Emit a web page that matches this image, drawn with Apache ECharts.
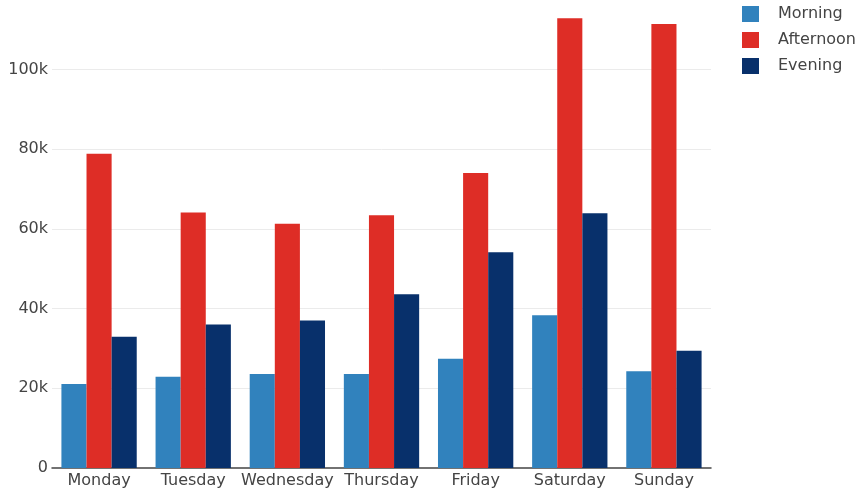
<!DOCTYPE html>
<html>
<head>
<meta charset="utf-8">
<script src="https://cdn.jsdelivr.net/npm/echarts@6/dist/echarts.min.js"></script>
<style>
  html, body { margin: 0; padding: 0; background: #fff; }
  #chart { width: 860px; height: 495px; }
</style>
</head>
<body>
<div id="chart"></div>
<script>
// Weekly visit counts by time of day
const days = ['Monday', 'Tuesday', 'Wednesday', 'Thursday', 'Friday', 'Saturday', 'Sunday'];
const morning   = [21100, 22900, 23600, 23600, 27400, 38300, 24300];
const afternoon = [78800, 64100, 61300, 63400, 74000, 112800, 111400];
const evening   = [32900, 36000, 37000, 43600, 54100, 63900, 29400];
const seriesNames = ['Morning', 'Afternoon', 'Evening'];
const seriesColors = ['#3182bd', '#de2d26', '#08306b'];

const font = 'DejaVu Sans, Verdana, sans-serif';
const textColor = '#444';

const chart = echarts.init(document.getElementById('chart'));
const values = [morning, afternoon, evening];

chart.setOption({
  animation: false,
  textStyle: { fontFamily: font },
  grid: { left: 52, right: 149, top: 0, bottom: 27, containLabel: false },
  legend: {
    orient: 'vertical',
    left: 742,
    top: 6,
    padding: 0,
    itemWidth: 17,
    itemHeight: 16,
    itemGap: 10,
    icon: 'rect',
    textStyle: { fontFamily: font, fontSize: 16, color: textColor, padding: [0, 0, 0, 14] },
    data: seriesNames
  },
  xAxis: {
    type: 'category',
    data: days,
    axisLine: { show: true, lineStyle: { color: '#444', width: 1.5 } },
    axisTick: { show: false },
    axisLabel: { color: textColor, fontSize: 16, fontFamily: font, margin: 5, interval: 0 }
  },
  yAxis: {
    type: 'value',
    min: 0,
    max: 117400,
    interval: 20000,
    axisLine: { show: false },
    axisTick: { show: false },
    splitLine: { show: true, showMaxLine: false, showMinLine: false, lineStyle: { color: '#ebebeb', width: 1 } },
    axisLabel: {
      color: textColor,
      fontSize: 16,
      fontFamily: font,
      margin: 4,
      showMaxLabel: false,
      formatter: v => v === 0 ? '0' : (v / 1000) + 'k'
    }
  },
  series: seriesNames.map((name, i) => ({
    name: name,
    type: 'bar',
    data: values[i],
    barGap: '0%',
    barCategoryGap: '20%',
    itemStyle: { color: seriesColors[i] }
  }))
});
</script>
</body>
</html>
